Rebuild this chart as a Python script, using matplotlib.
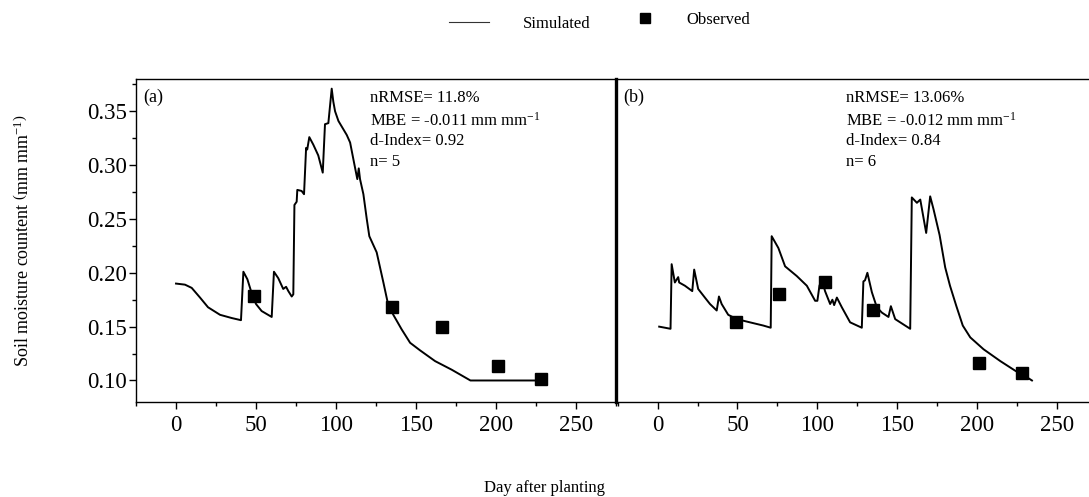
import matplotlib
matplotlib.use("Agg")
import matplotlib.pyplot as plt
from matplotlib.lines import Line2D
from matplotlib.ticker import MultipleLocator, FormatStrFormatter

plt.rcParams['font.family'] = ['Liberation Serif', 'DejaVu Serif']
plt.rcParams['mathtext.fontset'] = 'custom'
plt.rcParams['mathtext.rm'] = 'Liberation Serif'
plt.rcParams['mathtext.it'] = 'Liberation Serif:italic'

## DATA

# (a) simulated
days_a = [0, 5.6, 9.8, 15, 20, 27.5, 34.8, 40.6, 42.1, 44.6, 47.3, 50, 53.5, 59.8,
          61.2, 63.9, 67, 68.8, 70.2, 72.3, 73.3, 74, 75.4, 75.8, 78.5, 80, 81.3, 82,
          83.3, 85.8, 88.9, 91.7, 93.1, 95.2, 97.3, 98.3, 99.4, 101.5, 103.5, 106.7,
          108.8, 111.3, 113.3, 114.2, 115, 117.1, 119.2, 120.8, 125.4, 129.6, 132.5,
          135.8, 141, 146.3, 152.5, 161.9, 172.3, 184, 228]
sim_a = [0.190, 0.189, 0.186, 0.177, 0.168, 0.161, 0.158, 0.156, 0.201, 0.194, 0.181,
         0.171, 0.1645, 0.159, 0.201, 0.195, 0.185, 0.187, 0.183, 0.178, 0.180, 0.263,
         0.266, 0.277, 0.276, 0.273, 0.316, 0.3145, 0.326, 0.319, 0.309, 0.293, 0.338,
         0.339, 0.371, 0.359, 0.350, 0.341, 0.336, 0.328, 0.321, 0.302, 0.287, 0.297,
         0.287, 0.273, 0.250, 0.234, 0.219, 0.191, 0.171, 0.161, 0.1475, 0.135, 0.128,
         0.118, 0.110, 0.100, 0.100]
# (a) observed
obs_days_a = [49, 135, 166, 201, 228]
obs_a = [0.178, 0.168, 0.150, 0.113, 0.101]

# (b) simulated
days_b = [1.0, 4.6, 8.1, 8.8, 10.8, 12.9, 13.5, 17.1, 21.7, 22.9, 25.4, 29.6, 32.8, 37,
          38.4, 40.1, 44.2, 49.5, 57.8, 66.2, 70.8, 71.4, 75.6, 79.8, 87.1, 93.4, 98.6,
          100, 101.3, 102.8, 104.8, 108, 109.4, 110.5, 112.2, 115.3, 120.5, 127.8, 128.8,
          129.8, 131.3, 134.1, 137.2, 140.4, 144.5, 146, 148.7, 153.9, 158.1, 159.1,
          162.3, 164.4, 168.1, 170.6, 172.7, 176.5, 180, 183, 187, 191, 195.7, 204,
          214.5, 223.9, 230.1, 234.3]
sim_b = [0.150, 0.149, 0.148, 0.208, 0.191, 0.196, 0.191, 0.188, 0.183, 0.203, 0.185,
         0.177, 0.171, 0.165, 0.178, 0.171, 0.161, 0.157, 0.154, 0.151, 0.149, 0.234,
         0.223, 0.206, 0.197, 0.188, 0.174, 0.174, 0.188, 0.194, 0.183, 0.171, 0.175,
         0.170, 0.177, 0.168, 0.154, 0.149, 0.192, 0.193, 0.200, 0.182, 0.168, 0.163,
         0.159, 0.169, 0.157, 0.152, 0.148, 0.270, 0.265, 0.268, 0.237, 0.271, 0.259,
         0.235, 0.205, 0.188, 0.169, 0.151, 0.140, 0.129, 0.118, 0.109, 0.104, 0.100]
# (b) observed
obs_days_b = [49, 76, 105, 135, 201, 228]
obs_b = [0.154, 0.180, 0.191, 0.165, 0.116, 0.107]

stats_a = ['nRMSE= 11.8%', 'MBE = -0.011 mm mm$^{-1}$', 'd-Index= 0.92', 'n= 5']
stats_b = ['nRMSE= 13.06%', 'MBE = -0.012 mm mm$^{-1}$', 'd-Index= 0.84', 'n= 6']

## PLOT

fig = plt.figure(figsize=(10.89, 4.97), dpi=100)
ax_a = fig.add_axes([0.1249, 0.1911, 0.4408, 0.650])
ax_b = fig.add_axes([0.5657, 0.1911, 0.4343, 0.650])

panels = [(ax_a, days_a, sim_a, obs_days_a, obs_a, stats_a, '(a)', (-25, 275)),
          (ax_b, days_b, sim_b, obs_days_b, obs_b, stats_b, '(b)', (-26, 270))]

for ax, d, s, od, o, st, lab, xl in panels:
    ax.plot(d, s, color='black', linewidth=1.4)
    ax.plot(od, o, 's', color='black', markersize=8.5)
    ax.set_xlim(*xl)
    ax.set_ylim(0.08, 0.38)
    ax.xaxis.set_major_locator(MultipleLocator(50))
    ax.xaxis.set_minor_locator(MultipleLocator(25))
    ax.yaxis.set_major_locator(MultipleLocator(0.05))
    ax.yaxis.set_minor_locator(MultipleLocator(0.025))
    ax.yaxis.set_major_formatter(FormatStrFormatter('%.2f'))
    ax.tick_params(which='major', direction='out', length=5, width=1, labelsize=16.5, pad=4)
    ax.tick_params(which='minor', direction='out', length=3, width=1)
    ax.tick_params(axis='y', pad=1.5)
    for sp in ax.spines.values():
        sp.set_linewidth(1.0)
    ax.text(0.015, 0.97, lab, transform=ax.transAxes, fontsize=13, va='top', ha='left')
    for i, line in enumerate(st):
        ax.text(0.487, 0.965 - i * 0.066, line, transform=ax.transAxes,
                fontsize=12, va='top', ha='left')

ax_a.spines['right'].set_visible(False)
ax_b.spines['right'].set_visible(False)
ax_b.spines['left'].set_linewidth(2.4)
ax_b.tick_params(axis='y', which='both', left=False, labelleft=False)

fig.text(0.5, 0.018, 'Day after planting', ha='center', va='center', fontsize=12)
fig.text(0.021, 0.517, r'Soil moisture countent $\left(\mathrm{mm\ mm^{-1}}\right)$',
         rotation=90, ha='center', va='center', fontsize=13)

# legend in two parts so the gaps follow the original
fig.legend([Line2D([], [], color='#333333', linewidth=0.8)], ['Simulated'],
           loc='center left', bbox_to_anchor=(0.405, 0.952), frameon=False,
           fontsize=12, handlelength=2.4, handletextpad=2.0, borderpad=0)
fig.legend([Line2D([], [], linestyle='none', marker='s', color='black', markersize=7)],
           ['Observed'], loc='center left', bbox_to_anchor=(0.577, 0.960), frameon=False,
           fontsize=12, handlelength=1.0, handletextpad=2.0, borderpad=0)

fig.savefig('out.png', dpi=100)
